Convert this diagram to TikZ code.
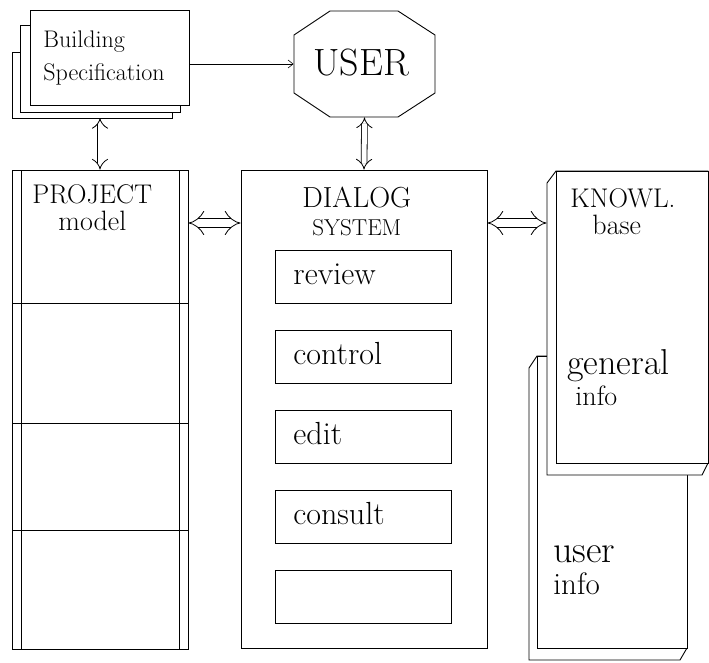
\documentclass[tikz,border=0pt]{standalone}
\usetikzlibrary{arrows.meta}
\newcommand{\fsz}[1]{\fontsize{#1}{#1}\selectfont}
\tikzset{
  sheet/.style={draw, fill=white, inner sep=0pt},
  txt/.style={inner sep=0pt, anchor=base west},
  dbl/.style={line width=0.8pt, double, double distance=#1, {Implies}-{Implies}},
}
\begin{document}
\begin{tikzpicture}[x=1pt,y=-1pt,line width=0.9pt]
  \useasboundingbox (0,0) rectangle (709,662);

  \draw[fill=white] (12,52) rectangle (172,118); %back sheet
  \draw[fill=white] (20,25) rectangle (180,112); %middle sheet
  \node[sheet, minimum width=159, minimum height=95] (bspec) at (109.5,57.5) {}; %building spec
  \node[txt] (bld) at (43,47) {\fsz{24}Building};
  \node[txt] (spec) at (43,80) {\fsz{24}Specification};

  \node[minimum width=141, minimum height=106] (user) at (364.5,64) {}; %user
  \draw (330,11) -- (398,11) -- (435,35) -- (435,93) -- (398,117) -- (330,117) -- (294,93) -- (294,35) -- cycle;
  \node[txt] (usertxt) at (313,75) {\fsz{38}USER};

  \node[sheet, minimum width=176, minimum height=479] (project) at (100,409.5) {}; %project
  \draw (21,170) -- (21,649);
  \draw (179,170) -- (179,649);
  \foreach \y in {303,423,530} \draw (12,\y) -- (188,\y);
  \node[txt] (prj) at (32,203) {\fsz{27}PROJECT};
  \node[txt] (mdl) at (58,230) {\fsz{28}model};

  \node[sheet, minimum width=246, minimum height=478] (dialog) at (364,409) {}; %dialog
  \node[txt] (dlg) at (302,207) {\fsz{29}DIALOG};
  \node[txt] (sys) at (312,235) {\fsz{23}SYSTEM};
  \foreach \name/\word [count=\i from 0] in {review/review,control/control,edit/edit,consult/consult,spare/{}} {
    \node[sheet, minimum width=176, minimum height=53] (\name) at (363,276.5+80*\i) {};
    \node[txt] (\name txt) at (293,284+80*\i) {\fsz{32}\word};
  }

  \draw[fill=white] (529,368) -- (537,356) -- (687,356) -- (687,648) -- (680,660) -- (529,660) -- cycle; %user info back
  \node[sheet, minimum width=150, minimum height=292] (uinfo) at (612,502) {}; %user info
  \draw[fill=white] (547,183) -- (556,171) -- (708,171) -- (708,463) -- (702,475) -- (547,475) -- cycle; %knowl back
  \node[sheet, minimum width=152, minimum height=292] (knowl) at (632,317) {}; %knowl
  \node[txt] (kn) at (570,207) {\fsz{27}KNOWL.};
  \node[txt] (bs) at (592,234) {\fsz{28}base};
  \node[txt] (gen) at (567,374) {\fsz{36}general};
  \node[txt] (ginfo) at (575,405) {\fsz{28}info};
  \node[txt] (usr) at (553,562) {\fsz{38}user};
  \node[txt] (uinf) at (553,594) {\fsz{31}info};

  \coordinate (mid) at (0,223);
  \coordinate (bsfoot) at (100,118);
  \draw[line width=0.6pt, -{Straight Barb[length=5pt,width=8pt]}] (bspec.east |- user.west) -- (user.west);
  \draw[dbl=5pt] (bsfoot) -- (bsfoot |- project.north);
  \draw[dbl=5pt] (user.south) -- (dialog.north);
  \draw[dbl=8pt] (project.east |- mid) -- (dialog.west |- mid);
  \draw[dbl=8pt] (dialog.east |- mid) -- ([xshift=-9pt]knowl.west |- mid);
\end{tikzpicture}
\end{document}
